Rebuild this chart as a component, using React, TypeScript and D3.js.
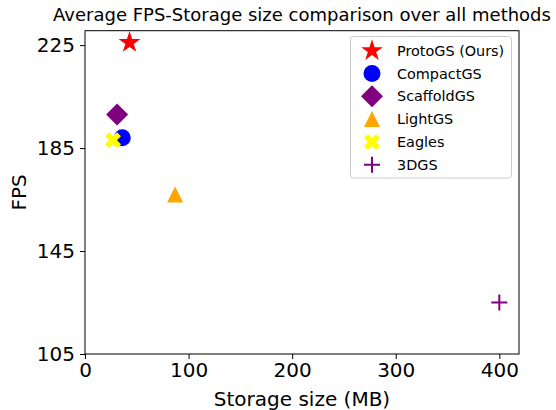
import React, { useEffect, useRef } from "react";
import * as d3 from "d3";

const methods = ["ProtoGS (Ours)", "CompactGS", "ScaffoldGS", "LightGS", "Eagles", "3DGS"];
const storage = [43, 36, 31, 87, 27, 400];
const fps = [226, 189, 198, 167, 188, 125];
const xTicks = [0, 100, 200, 300, 400];
const yTicks = [105, 145, 185, 225];

const colors = ["#ff0000", "#0000ff", "#800080", "#ffa500", "#ffff00", "#800080"];

// custom d3 symbol types that look like matplotlib markers (size = pixel extent)
const star = {
  draw(ctx: any, s: number) {
    const r = s / 2;
    const ri = r * 0.381966;
    for (let i = 0; i < 10; i++) {
      const a = (i * Math.PI) / 5;
      const rr = i % 2 === 0 ? r : ri;
      const x = rr * Math.sin(a);
      const y = -rr * Math.cos(a);
      if (i === 0) ctx.moveTo(x, y);
      else ctx.lineTo(x, y);
    }
    ctx.closePath();
  },
};
const circle = {
  draw(ctx: any, s: number) {
    const r = s / 2;
    ctx.moveTo(r, 0);
    ctx.arc(0, 0, r, 0, 2 * Math.PI);
  },
};
const diamond = {
  draw(ctx: any, s: number) {
    const h = s / 2;
    ctx.moveTo(0, -h);
    ctx.lineTo(h, 0);
    ctx.lineTo(0, h);
    ctx.lineTo(-h, 0);
    ctx.closePath();
  },
};
const triangle = {
  draw(ctx: any, s: number) {
    const h = s / 2;
    ctx.moveTo(0, -h);
    ctx.lineTo(h, h);
    ctx.lineTo(-h, h);
    ctx.closePath();
  },
};
const xFilled = {
  draw(ctx: any, s: number) {
    const pts = [[-1, -2], [0, -1], [1, -2], [2, -1], [1, 0], [2, 1], [1, 2], [0, 1], [-1, 2], [-2, 1], [-1, 0], [-2, -1]];
    pts.forEach((p, i) => {
      const x = (p[0] / 4) * s;
      const y = (p[1] / 4) * s;
      if (i === 0) ctx.moveTo(x, y);
      else ctx.lineTo(x, y);
    });
    ctx.closePath();
  },
};
const plus = {
  draw(ctx: any, s: number) {
    const h = s / 2;
    ctx.moveTo(-h, 0);
    ctx.lineTo(h, 0);
    ctx.moveTo(0, -h);
    ctx.lineTo(0, h);
  },
};

const shapes = [star, circle, diamond, triangle, xFilled, plus];
const sizes = [23, 17, 22, 16, 16, 16];

const Chart: React.FC = () => {
  const svgRef = useRef<SVGSVGElement | null>(null);

  useEffect(() => {
    if (!svgRef.current) return;
    const width = 556;
    const height = 410;
    const margin = { top: 30.7, right: 37, bottom: 56, left: 85 };
    const svg = d3.select(svgRef.current);
    svg.selectAll("*").remove();
    const font = "DejaVu Sans, sans-serif";

    const x = d3.scaleLinear().domain([0, 419]).range([margin.left, width - margin.right]);
    const y = d3.scaleLinear().domain([105, 230.6]).range([height - margin.bottom, margin.top]);

    // title
    svg.append("text")
      .attr("x", (x.range()[0] + x.range()[1]) / 2)
      .attr("y", 21)
      .attr("text-anchor", "middle")
      .attr("font-family", font)
      .attr("font-size", 18)
      .text("Average FPS-Storage size comparison over all methods");

    // points
    const g = svg.append("g");
    methods.forEach((m, i) => {
      const p = g.append("path")
        .attr("transform", `translate(${x(storage[i])},${y(fps[i])})`)
        .attr("d", d3.symbol(shapes[i] as any, sizes[i])());
      if (shapes[i] === plus) p.attr("fill", "none").attr("stroke", colors[i]).attr("stroke-width", 2);
      else p.attr("fill", colors[i]);
    });

    // axes
    const xAxis = d3.axisBottom(x).tickValues(xTicks).tickSize(5).tickPadding(4).tickSizeOuter(0);
    const yAxis = d3.axisLeft(y).tickValues(yTicks).tickSize(5).tickPadding(5).tickSizeOuter(0);
    const gx = svg.append("g").attr("transform", `translate(0,${y.range()[0]})`).call(xAxis);
    const gy = svg.append("g").attr("transform", `translate(${x.range()[0]},0)`).call(yAxis);
    [gx, gy].forEach((ga) => {
      ga.select(".domain").remove();
      ga.selectAll("text").attr("font-family", font).attr("font-size", 20).attr("fill", "#000");
      ga.selectAll("line").attr("stroke", "#000");
    });
    gx.selectAll("text").attr("dy", "0.72em");

    // frame
    svg.append("rect")
      .attr("x", x.range()[0])
      .attr("y", y.range()[1])
      .attr("width", x.range()[1] - x.range()[0])
      .attr("height", y.range()[0] - y.range()[1])
      .attr("fill", "none")
      .attr("stroke", "#000")
      .attr("stroke-width", 1);

    // axis labels
    svg.append("text")
      .attr("x", (x.range()[0] + x.range()[1]) / 2)
      .attr("y", 406)
      .attr("text-anchor", "middle")
      .attr("font-family", font)
      .attr("font-size", 20)
      .text("Storage size (MB)");
    svg.append("text")
      .attr("transform", `translate(26,${(y.range()[0] + y.range()[1]) / 2}) rotate(-90)`)
      .attr("text-anchor", "middle")
      .attr("font-family", font)
      .attr("font-size", 20)
      .text("FPS");

    // legend
    const lg = svg.append("g");
    lg.append("rect")
      .attr("x", 350.5)
      .attr("y", 36.5)
      .attr("width", 161)
      .attr("height", 141.5)
      .attr("rx", 3)
      .attr("fill", "#fff")
      .attr("fill-opacity", 0.8)
      .attr("stroke", "#cccccc");
    methods.forEach((m, i) => {
      const cy = 50.7 + i * 22.8;
      const p = lg.append("path")
        .attr("transform", `translate(372,${cy})`)
        .attr("d", d3.symbol(shapes[i] as any, sizes[i])());
      if (shapes[i] === plus) p.attr("fill", "none").attr("stroke", colors[i]).attr("stroke-width", 2);
      else p.attr("fill", colors[i]);
      lg.append("text")
        .attr("x", 397)
        .attr("y", cy)
        .attr("dy", "0.36em")
        .attr("font-family", font)
        .attr("font-size", 14.4)
        .text(m);
    });
  }, []);

  return (
    <svg
      ref={svgRef}
      width={556}
      height={410}
      style={{ position: "absolute", left: 0, top: 0, background: "#fff" }}
    ></svg>
  );
};

export default function App() {
  return <Chart />;
}
